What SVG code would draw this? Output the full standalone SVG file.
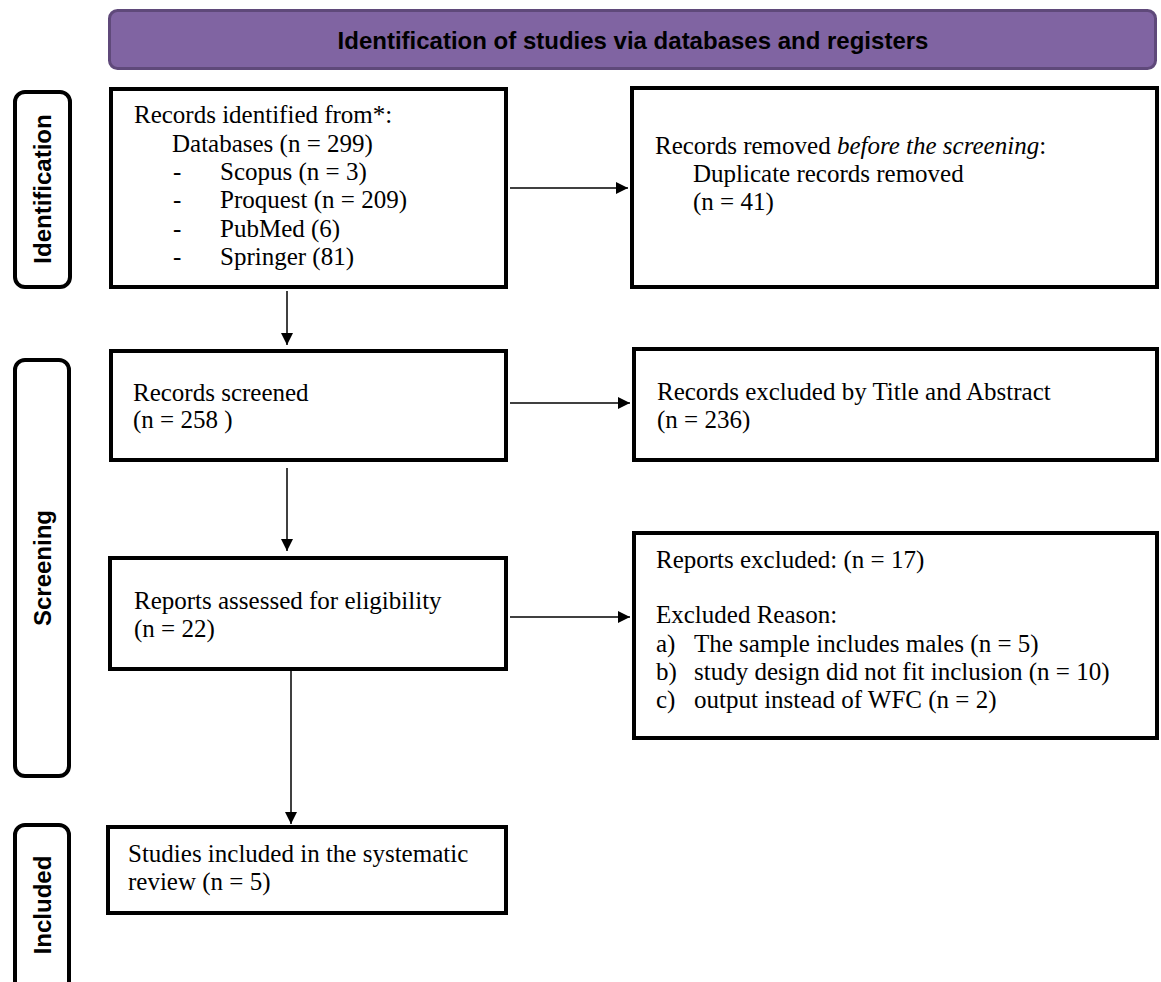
<svg xmlns="http://www.w3.org/2000/svg" width="1161" height="982" viewBox="0 0 1161 982">
<style>
.box{fill:#fff;stroke:#000;stroke-width:4}
.lab{fill:#fff;stroke:#000;stroke-width:4}
.t{font-family:"Liberation Serif","Times New Roman",serif;font-size:25px;fill:#000}
.lt{font-family:"Liberation Sans",Arial,sans-serif;font-size:24px;font-weight:bold;fill:#000;text-anchor:middle}
.con{stroke:#000;stroke-width:1.5;fill:none}
</style>
<defs>
<marker id="ah" markerUnits="userSpaceOnUse" markerWidth="12" markerHeight="12" refX="12" refY="6" orient="auto">
<path d="M0,0 L12,6 L0,12 z" fill="#000"/>
</marker>
</defs>
<rect width="1161" height="982" fill="#fff"/>
<g id="header">
<rect x="109.5" y="10.5" width="1046" height="58" rx="8" fill="#8064A2" stroke="#5F497A" stroke-width="3"/>
<text class="lt" x="633" y="49">Identification of studies via databases and registers</text>
</g>
<g id="label-identification">
<rect class="lab" x="15" y="92" width="55" height="195" rx="10"/>
<text class="lt" transform="translate(51,189) rotate(-90)">Identification</text>
</g>
<g id="label-screening">
<rect class="lab" x="15" y="360" width="54" height="416" rx="10"/>
<text class="lt" transform="translate(51,568) rotate(-90)">Screening</text>
</g>
<g id="label-included">
<rect class="lab" x="15" y="825" width="54" height="170" rx="10"/>
<text class="lt" transform="translate(51,905) rotate(-90)">Included</text>
</g>
<g id="records-identified">
<rect class="box" x="111" y="89" width="395" height="198"/>
<text class="t" x="134" y="123">Records identified from*:</text>
<text class="t" x="172" y="152">Databases (n = 299)</text>
<text class="t" x="173" y="180">-</text><text class="t" x="220" y="180">Scopus (n = 3)</text>
<text class="t" x="173" y="208">-</text><text class="t" x="220" y="208">Proquest (n = 209)</text>
<text class="t" x="173" y="237">-</text><text class="t" x="220" y="237">PubMed (6)</text>
<text class="t" x="173" y="265">-</text><text class="t" x="220" y="265">Springer (81)</text>
</g>
<g id="records-removed">
<rect class="box" x="632" y="88" width="525" height="199"/>
<text class="t" x="655" y="154">Records removed <tspan font-style="italic">before the screening</tspan>:</text>
<text class="t" x="693" y="182">Duplicate records removed</text>
<text class="t" x="693" y="210">(n = 41)</text>
</g>
<g id="records-screened">
<rect class="box" x="111" y="351" width="395" height="109"/>
<text class="t" x="133" y="401">Records screened</text>
<text class="t" x="133" y="428">(n = 258 )</text>
</g>
<g id="records-excluded">
<rect class="box" x="634" y="349" width="523" height="111"/>
<text class="t" x="657" y="400">Records excluded by Title and Abstract</text>
<text class="t" x="657" y="428">(n = 236)</text>
</g>
<g id="reports-assessed">
<rect class="box" x="110" y="558" width="396" height="111"/>
<text class="t" x="134" y="609">Reports assessed for eligibility</text>
<text class="t" x="134" y="637">(n = 22)</text>
</g>
<g id="reports-excluded">
<rect class="box" x="634" y="533" width="523" height="205"/>
<text class="t" x="656" y="568">Reports excluded: (n = 17)</text>
<text class="t" x="656" y="623">Excluded Reason:</text>
<text class="t" x="656" y="652">a)</text><text class="t" x="694" y="652">The sample includes males (n = 5)</text>
<text class="t" x="656" y="680">b)</text><text class="t" x="694" y="680">study design did not fit inclusion (n = 10)</text>
<text class="t" x="656" y="708">c)</text><text class="t" x="694" y="708">output instead of WFC (n = 2)</text>
</g>
<g id="studies-included">
<rect class="box" x="108" y="827" width="398" height="86"/>
<text class="t" x="128" y="862">Studies included in the systematic</text>
<text class="t" x="128" y="890">review (n = 5)</text>
</g>
<g id="connectors">
<line class="con" x1="510" y1="188" x2="628" y2="188" marker-end="url(#ah)"/>
<line class="con" x1="287" y1="291" x2="287" y2="345" marker-end="url(#ah)"/>
<line class="con" x1="510" y1="403" x2="630" y2="403" marker-end="url(#ah)"/>
<line class="con" x1="287" y1="468" x2="287" y2="551" marker-end="url(#ah)"/>
<line class="con" x1="510" y1="617" x2="630" y2="617" marker-end="url(#ah)"/>
<line class="con" x1="291" y1="671" x2="291" y2="824" marker-end="url(#ah)"/>
</g>
</svg>
